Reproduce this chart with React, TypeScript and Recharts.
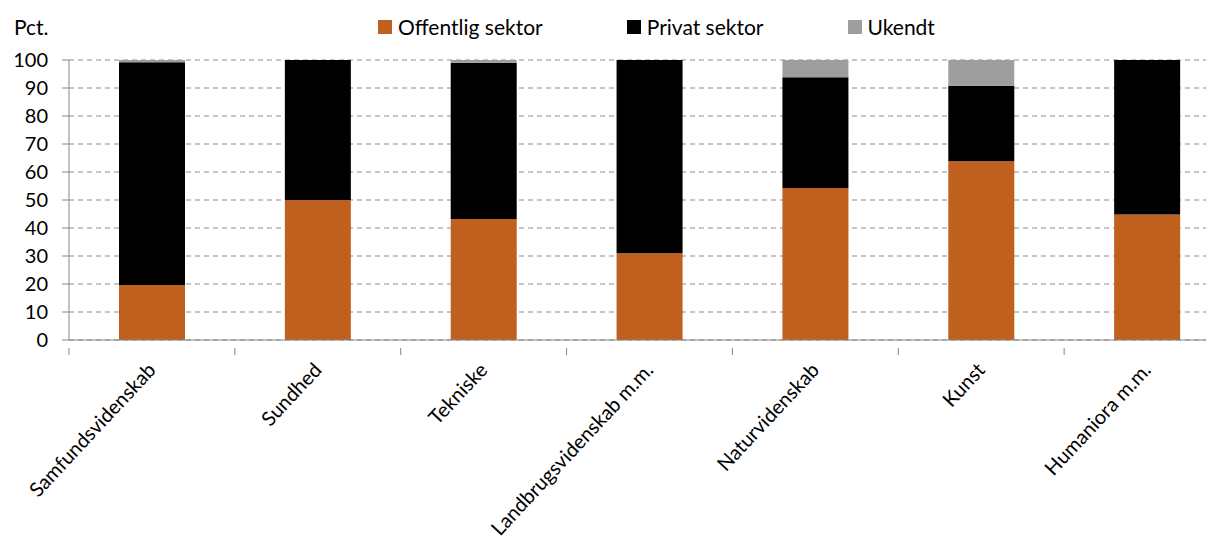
import { BarChart, Bar, XAxis, YAxis, CartesianGrid } from "recharts";

const categories = [
  "Samfundsvidenskab",
  "Sundhed",
  "Tekniske",
  "Landbrugsvidenskab m.m.",
  "Naturvidenskab",
  "Kunst",
  "Humaniora m.m.",
];
const offentlig = [19.6, 50, 43.2, 31, 54.3, 63.8, 44.8];
const privat = [79.6, 50, 55.8, 69, 39.5, 27, 55.2];
const ukendt = [0.8, 0, 1, 0, 6.2, 9.2, 0];
const yTicks = [0, 10, 20, 30, 40, 50, 60, 70, 80, 90, 100];

const series = [
  { key: "offentlig", name: "Offentlig sektor", color: "#C0601E" },
  { key: "privat", name: "Privat sektor", color: "#000000" },
  { key: "ukendt", name: "Ukendt", color: "#9E9E9E" },
];

const data = categories.map((c, i) => ({
  name: c,
  offentlig: offentlig[i],
  privat: privat[i],
  ukendt: ukendt[i],
}));

const FONT = "Lato, 'Liberation Sans', sans-serif";
const AXIS = "#868686";
const CHART_W = 1230;
const LEFT = 69;
const BAND = (CHART_W - LEFT) / categories.length;

function XTick(props: any) {
  const { x, y, payload, index } = props;
  const last = index === categories.length - 1;
  return (
    <g transform={`translate(${x},${y})`}>
      <line x1={-BAND / 2} x2={-BAND / 2} y1={0} y2={7} stroke={AXIS} />
      {last && <line x1={BAND / 2} x2={BAND / 2} y1={0} y2={7} stroke={AXIS} />}
      <text
        x={5}
        y={23}
        transform="rotate(-47, 5, 23)"
        textAnchor="end"
        fontSize={20}
        fill="#000"
        fontFamily={FONT}
      >
        {payload.value}
      </text>
    </g>
  );
}

export default function App() {
  return (
    <div style={{ position: "relative", margin: -8, width: 1214, height: 549, overflow: "hidden", background: "#fff" }}>
      <div style={{ position: "absolute", left: 14, top: 14, fontFamily: FONT, fontSize: 21 }}>Pct.</div>
      <div
        style={{
          position: "absolute",
          left: 378,
          top: 14,
          display: "flex",
          alignItems: "center",
          fontFamily: FONT,
          fontSize: 21,
          zIndex: 2,
        }}
      >
        {series.map((s) => (
          <div key={s.key} style={{ display: "flex", alignItems: "center", marginRight: 84 }}>
            <span style={{ width: 14, height: 14, background: s.color, display: "inline-block", marginRight: 6 }} />
            <span>{s.name}</span>
          </div>
        ))}
      </div>
      <BarChart
        width={CHART_W}
        height={549}
        data={data}
        barSize={66}
        margin={{ top: 60, right: 0, bottom: 0, left: 0 }}
      >
        <CartesianGrid vertical={false} stroke="#8a8a8a" strokeDasharray="5 4" />
        <XAxis
          dataKey="name"
          interval={0}
          height={209}
          axisLine={{ stroke: AXIS }}
          tickLine={false}
          tick={<XTick />}
        />
        <YAxis
          domain={[0, 100]}
          ticks={yTicks}
          interval={0}
          width={LEFT}
          axisLine={{ stroke: AXIS }}
          tickLine={{ stroke: AXIS }}
          tickSize={7}
          tickMargin={14}
          tick={{ fill: "#000", fontSize: 20, fontFamily: FONT }}
        />
        {series.map((s) => (
          <Bar key={s.key} dataKey={s.key} name={s.name} stackId="a" fill={s.color} isAnimationActive={false} />
        ))}
      </BarChart>
    </div>
  );
}
